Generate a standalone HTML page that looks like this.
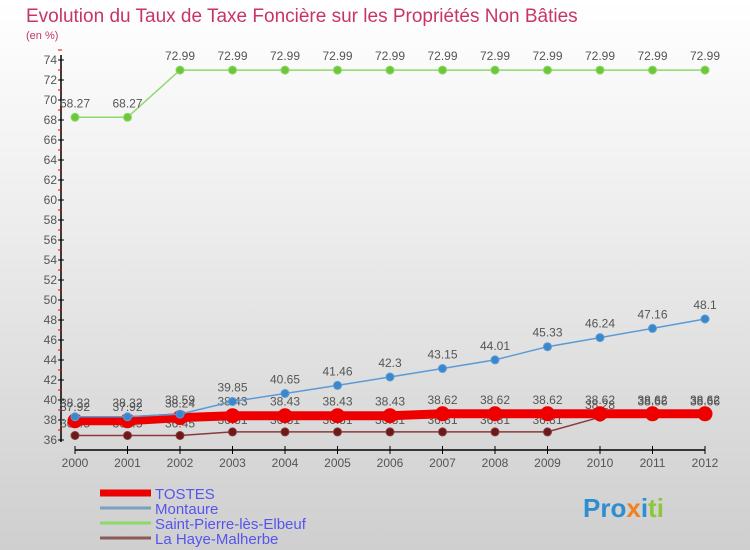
<!DOCTYPE html>
<html><head><meta charset="utf-8"><style>
body{margin:0;}
#wrap{width:750px;height:550px;position:relative;overflow:hidden;background:linear-gradient(#ffffff 0%,#f2f2f2 30%,#d6d6d6 85%,#cfcfcf 100%);font-family:"Liberation Sans",sans-serif;}
</style></head><body>
<div id="wrap">
<svg id="chart" width="750" height="550"></svg>
</div>
<script>
const years=[2000,2001,2002,2003,2004,2005,2006,2007,2008,2009,2010,2011,2012];
const tostes=[37.92,37.92,38.24,38.43,38.43,38.43,38.43,38.62,38.62,38.62,38.62,38.62,38.62];
const montaure=[38.32,38.32,38.59,39.85,40.65,41.46,42.3,43.15,44.01,45.33,46.24,47.16,48.1];
const stPierre=[68.27,68.27,72.99,72.99,72.99,72.99,72.99,72.99,72.99,72.99,72.99,72.99,72.99];
const laHaye=[36.45,36.45,36.45,36.81,36.81,36.81,36.81,36.81,36.81,36.81,38.28,38.66,38.66];
const yTicks=[36,38,40,42,44,46,48,50,52,54,56,58,60,62,64,66,68,70,72,74];
const seriesNames=["TOSTES","Montaure","Saint-Pierre-lès-Elbeuf","La Haye-Malherbe"];

const NS="http://www.w3.org/2000/svg";
const svg=document.getElementById('chart');
function el(t,a,p){const e=document.createElementNS(NS,t);for(const k in a)e.setAttribute(k,a[k]);(p||svg).appendChild(e);return e;}
const xS=i=>75+i*(630/(years.length-1));
const yS=v=>440-(v-36)*10;

let t=el('text',{x:26,y:22,fill:'#c8346a','font-size':19});t.textContent='Evolution du Taux de Taxe Foncière sur les Propriétés Non Bâties';

t=el('text',{x:26,y:39,fill:'#c8346a','font-size':11});t.textContent='(en %)';


let a=el('line',{x1:61,y1:55,x2:61,y2:442,stroke:'#000','stroke-width':1.5});

a=el('line',{x1:75,y1:450,x2:705,y2:450,stroke:'#000','stroke-width':1.5});

yTicks.forEach(v=>{
  el('line',{x1:58,y1:yS(v),x2:64,y2:yS(v),stroke:'#000'});
  el('line',{x1:58,y1:yS(v+1),x2:62,y2:yS(v+1),stroke:'#e00'});
  const l=el('text',{x:57,y:yS(v)+4,'text-anchor':'end','font-size':12,fill:'#555'});l.textContent=v;
  
});
years.forEach((y,i)=>{
  el('line',{x1:xS(i),y1:446,x2:xS(i),y2:454,stroke:'#000'});
  const l=el('text',{x:xS(i),y:467,'text-anchor':'middle','font-size':12,fill:'#555'});l.textContent=y;
  
});

function series(vals,color,w,r,fill,name,labOff){
  const g=el('g',{});
  
  el('polyline',{points:vals.map((v,i)=>xS(i)+','+yS(v)).join(' '),fill:'none',stroke:color,'stroke-width':w},g);
  vals.forEach((v,i)=>{
    const c=el('circle',{cx:xS(i),cy:yS(v),r:r,fill:fill,stroke:color,'stroke-width':1},g);
    
    const l=el('text',{x:xS(i),y:yS(v)+labOff,'text-anchor':'middle','font-size':12,fill:'#555'},g);l.textContent=v;
  });
}
series(laHaye,'#8b3a3a',1.5,4,'#6a1a1a','series-la-haye-malherbe',-8);
series(tostes,'#ee0000',9,7,'#ee0000','series-tostes',-10);
series(montaure,'#5b9bd5',1.5,4,'#3a88cc','series-montaure',-10);
series(stPierre,'#8fd86a',1.5,4,'#6cc83a','series-saint-pierre',-10);

const lc=['#ee0000','#7aa0c0','#8fd86a','#8b5a5a'],lw=[7,3,3,3];
seriesNames.forEach((n,i)=>{
  const y=493+i*15;
  const l=el('line',{x1:100,y1:y,x2:151,y2:y,stroke:lc[i],'stroke-width':lw[i]});
  
  const tx=el('text',{x:155,y:y+6,fill:'#5555ee','font-size':15});tx.textContent=n;
  
});
const lg=el('text',{x:583,y:517,'font-size':26,'font-weight':'bold',fill:'#2e8fd0'});

lg.innerHTML='<tspan fill="#2e8fd0">Pro</tspan><tspan fill="#f08020">x</tspan><tspan fill="#2e8fd0">i</tspan><tspan fill="#8cc63f">ti</tspan>';
</script>
</body></html>
